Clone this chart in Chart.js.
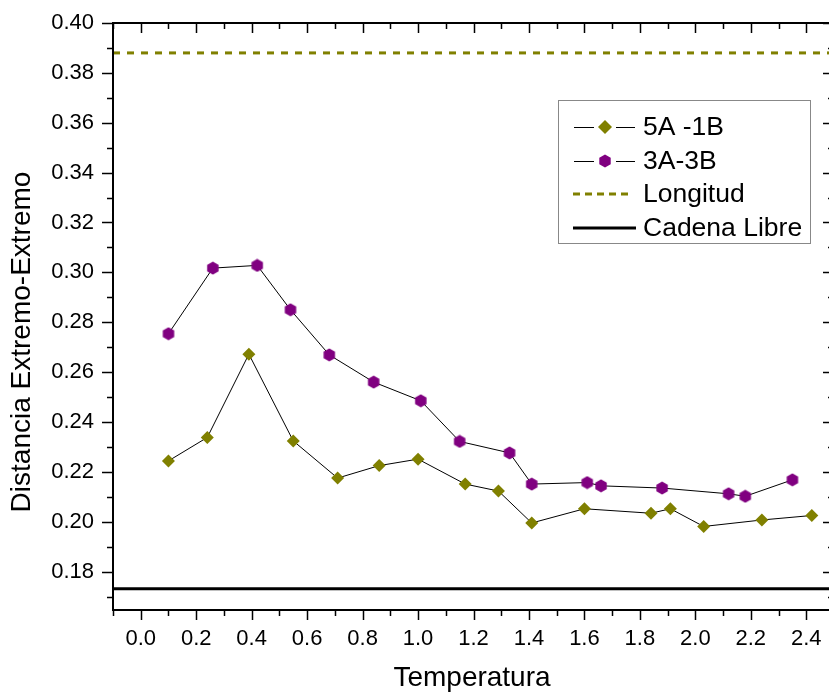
<!DOCTYPE html>
<html>
<head>
<meta charset="utf-8">
<script src="https://cdn.jsdelivr.net/npm/chart.js@4"></script>
<style>
  html, body { margin: 0; padding: 0; background: #fff; overflow: hidden; }
  #wrap { position: absolute; left: 0; top: 0; width: 845px; height: 693px; }
</style>
</head>
<body>
<div id="wrap"><canvas id="chart"></canvas></div>
<script>
  // values
  const tempA = [0.10, 0.24, 0.39, 0.55, 0.71, 0.86, 1.00, 1.17, 1.29, 1.41, 1.60, 1.84, 1.91, 2.03, 2.24, 2.42];
  const distA = [0.2244, 0.2338, 0.2672, 0.2324, 0.2175, 0.2225, 0.2251, 0.2151, 0.2123, 0.1995, 0.2052, 0.2034, 0.2052, 0.1981, 0.2007, 0.2025];
  const tempB = [0.10, 0.26, 0.42, 0.54, 0.68, 0.84, 1.01, 1.15, 1.33, 1.41, 1.61, 1.66, 1.88, 2.12, 2.18, 2.35];
  const distB = [0.2754, 0.3017, 0.3028, 0.2850, 0.2669, 0.2560, 0.2485, 0.2322, 0.2276, 0.2151, 0.2157, 0.2144, 0.2135, 0.2112, 0.2102, 0.2168];
  const longitud = 0.388;
  const cadenaLibre = 0.1731;

  const seriesLabels = ['5A -1B', '3A-3B', 'Longitud', 'Cadena Libre'];
  const xTicks = [0.0, 0.2, 0.4, 0.6, 0.8, 1.0, 1.2, 1.4, 1.6, 1.8, 2.0, 2.2, 2.4];
  const yTicks = [0.18, 0.20, 0.22, 0.24, 0.26, 0.28, 0.30, 0.32, 0.34, 0.36, 0.38, 0.40];
  const xMin = -0.1, xMax = 2.5;
  const yMin = 0.1646, yMax = 0.40;

  const olive = '#808000';
  const purple = '#800080';
  const font = 'Liberation Sans, Arial, sans-serif';

  const hexagon = (() => {
    const c = document.createElement('canvas');
    c.width = 14; c.height = 14;
    const g = c.getContext('2d');
    g.fillStyle = purple;
    g.beginPath();
    for (let i = 0; i < 6; i++) {
      const a = Math.PI / 2 + i * Math.PI / 3;
      const px = 7 + 6.6 * Math.cos(a), py = 7 + 6.6 * Math.sin(a);
      i ? g.lineTo(px, py) : g.moveTo(px, py);
    }
    g.closePath();
    g.fill();
    return c;
  })();

  const pts = (xs, ys) => xs.map((x, i) => ({ x, y: ys[i] }));

  // axes frame, minor/major tick marks, titles and legend box
  const framePlugin = {
    id: 'frame',
    afterDraw(chart) {
      const { ctx, chartArea: a, scales: { x, y } } = chart;
      ctx.save();
      ctx.strokeStyle = '#000';
      ctx.lineWidth = 2;
      ctx.strokeRect(a.left, a.top, a.right - a.left, a.bottom - a.top);

      ctx.lineWidth = 1.5;
      ctx.beginPath();
      for (let i = -1; i <= 25; i++) {
        const v = i / 10;
        const px = Math.round(x.getPixelForValue(v)) + 0.5;
        const len = i % 2 === 0 ? 10 : 6;
        ctx.moveTo(px, a.bottom); ctx.lineTo(px, a.bottom + len);
        ctx.moveTo(px, a.top); ctx.lineTo(px, a.top + len);
      }
      for (let i = 17; i <= 40; i++) {
        const v = i / 100;
        const py = Math.round(y.getPixelForValue(v)) + 0.5;
        const len = i % 2 === 0 ? 11 : 6;
        ctx.moveTo(a.left, py); ctx.lineTo(a.left - len, py);
        ctx.moveTo(a.right, py); ctx.lineTo(a.right - len, py);
      }
      ctx.stroke();

      ctx.fillStyle = '#000';
      ctx.font = '28px ' + font;
      ctx.textAlign = 'center';
      ctx.textBaseline = 'middle';
      ctx.fillText('Temperatura', 472, 678);
      ctx.save();
      ctx.translate(22, 342);
      ctx.rotate(-Math.PI / 2);
      ctx.fillText('Distancia Extremo-Extremo', 0, 0);
      ctx.restore();

      // legend
      const bx = 558, by = 100, bw = 252, bh = 143;
      ctx.fillStyle = '#fff';
      ctx.fillRect(bx, by, bw, bh);
      ctx.strokeStyle = '#888';
      ctx.lineWidth = 1;
      ctx.strokeRect(bx + 0.5, by + 0.5, bw, bh);
      const rows = [127, 161, 194, 228];
      ctx.font = '26.5px ' + font;
      ctx.textAlign = 'left';
      rows.forEach((ry, i) => {
        ctx.strokeStyle = '#000';
        ctx.lineWidth = 1;
        if (i < 2) {
          ctx.beginPath();
          ctx.moveTo(574, ry + 0.5); ctx.lineTo(594, ry + 0.5);
          ctx.moveTo(616, ry + 0.5); ctx.lineTo(635, ry + 0.5);
          ctx.stroke();
          if (i === 0) {
            ctx.fillStyle = olive;
            ctx.beginPath();
            ctx.moveTo(605, ry - 7); ctx.lineTo(612, ry); ctx.lineTo(605, ry + 7); ctx.lineTo(598, ry);
            ctx.closePath();
            ctx.fill();
          } else {
            ctx.drawImage(hexagon, 598, ry - 7);
          }
        } else if (i === 2) {
          ctx.strokeStyle = olive;
          ctx.lineWidth = 3;
          ctx.setLineDash([7, 5]);
          ctx.beginPath();
          ctx.moveTo(573, ry); ctx.lineTo(631, ry);
          ctx.stroke();
          ctx.setLineDash([]);
        } else {
          ctx.lineWidth = 3;
          ctx.beginPath();
          ctx.moveTo(573, ry); ctx.lineTo(636, ry);
          ctx.stroke();
        }
        ctx.fillStyle = '#000';
        ctx.fillText(seriesLabels[i], 643, ry + 1);
      });
      ctx.restore();
    }
  };

  new Chart(document.getElementById('chart'), {
    type: 'line',
    data: {
      datasets: [
        {
          label: seriesLabels[0],
          data: pts(tempA, distA),
          borderColor: '#000',
          borderWidth: 1,
          pointStyle: 'rectRot',
          pointRadius: 6.5,
          pointBackgroundColor: olive,
          pointBorderWidth: 0,
          tension: 0,
        },
        {
          label: seriesLabels[1],
          data: pts(tempB, distB),
          borderColor: '#000',
          borderWidth: 1,
          pointStyle: hexagon,
          pointRadius: 7,
          pointBorderWidth: 0,
          tension: 0,
        },
        {
          label: seriesLabels[2],
          data: pts([xMin, xMax], [longitud, longitud]),
          borderColor: olive,
          borderWidth: 3,
          borderDash: [7, 7],
          pointRadius: 0,
        },
        {
          label: seriesLabels[3],
          data: pts([xMin, xMax], [cadenaLibre, cadenaLibre]),
          borderColor: '#000',
          borderWidth: 3,
          pointRadius: 0,
        },
      ],
    },
    options: {
      responsive: true,
      maintainAspectRatio: false,
      animation: false,
      layout: {
        padding: { left: 0, top: 23, right: 11, bottom: 0 },
      },
      scales: {
        x: {
          type: 'linear',
          min: xMin,
          max: xMax,
          afterFit: (scale) => { scale.height = 83; },
          afterBuildTicks: (scale) => { scale.ticks = xTicks.map(v => ({ value: v })); },
          grid: { display: false, drawTicks: true, tickLength: 10 },
          border: { display: false },
          ticks: {
            color: '#000',
            padding: 6,
            maxRotation: 0,
            font: { family: font, size: 22 },
            callback: (v) => v.toFixed(1),
          },
        },
        y: {
          type: 'linear',
          min: yMin,
          max: yMax,
          afterFit: (scale) => { scale.width = 113; },
          afterBuildTicks: (scale) => { scale.ticks = yTicks.map(v => ({ value: v })); },
          grid: { display: false, drawTicks: true, tickLength: 11 },
          border: { display: false },
          ticks: {
            color: '#000',
            padding: 8,
            font: { family: font, size: 22 },
            callback: (v) => v.toFixed(2),
          },
        },
      },
      plugins: {
        legend: { display: false },
        tooltip: { enabled: false },
      },
    },
    plugins: [framePlugin],
  });
</script>
</body>
</html>
